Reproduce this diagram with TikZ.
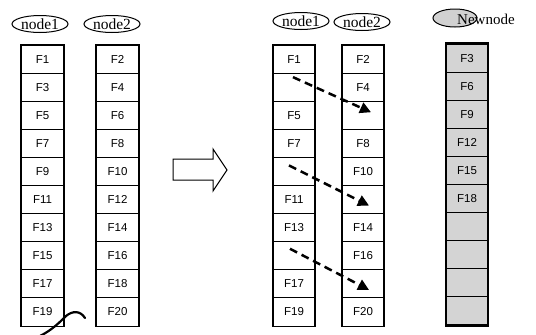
\documentclass[tikz,border=0pt]{standalone}
\usepackage{fontspec}
\setmainfont{Liberation Serif}
\newfontfamily\cellfont{Liberation Sans}
\usetikzlibrary{arrows.meta,shapes.geometric}
\begin{document}
\begin{tikzpicture}[x=1pt,y=-1pt,
  cell/.style={draw, line width=1pt, minimum width=41.5pt, minimum height=28.1pt,
    inner sep=0pt, font=\cellfont\fontsize{11.5}{13}\selectfont},
  newcell/.style={cell, fill=black!17},
  tag/.style={draw, ellipse, line width=1pt, minimum width=56pt, minimum height=17pt,
    inner sep=0pt, font=\fontsize{15.5}{17}\selectfont},
  frame/.style={draw, line width=1.8pt},
  move/.style={line width=2.5pt, dash pattern=on 8pt off 5pt,
    -{Triangle[length=11pt,width=11pt]}}
]
\useasboundingbox (0,0) rectangle (536,335);

% ---- before: two nodes ----
\node[tag] (l1) at (40,24) {node1};
\node[tag] (l2) at (112,24) {node2};
\foreach \lab [count=\i] in {F1,F3,F5,F7,F9,F11,F13,F15,F17,F19}
  \node[cell] (a\i) at (42.5,{45+(\i-0.5)*28.1}) {\lab};
\foreach \lab [count=\i] in {F2,F4,F6,F8,F10,F12,F14,F16,F18,F20}
  \node[cell] (b\i) at (117.5,{45+(\i-0.5)*28.1}) {\lab};
\draw[frame] (a1.north west) rectangle (a10.south east);
\draw[frame] (b1.north west) rectangle (b10.south east);

% hand-drawn stroke under the first column
\draw[line width=2.2pt, line cap=round]
  (40,336) .. controls (52,330) and (60,322) .. (66,316)
  .. controls (72,311) and (80,310) .. (85,318);

% ---- transition arrow ----
\draw[line width=1pt, line join=miter]
  (173,159) -- (213,159) -- (213,149) -- (227,170) -- (213,191)
  -- (213,180) -- (173,180) -- cycle;

% ---- after: two nodes with moved slots ----
\node[tag] (m1) at (301,21) {node1};
\node[tag] (m2) at (362,22) {node2};
\foreach \lab [count=\i] in {F1,{},F5,F7,{},F11,F13,{},F17,F19}
  \node[cell] (c\i) at (294,{45+(\i-0.5)*28.1}) {\lab};
\foreach \lab [count=\i] in {F2,F4,{},F8,F10,{},F14,F16,{},F20}
  \node[cell] (d\i) at (363,{45+(\i-0.5)*28.1}) {\lab};
\draw[frame] (c1.north west) rectangle (c10.south east);
\draw[frame] (d1.north west) rectangle (d10.south east);

\draw[move] ([xshift=-1pt,yshift=10pt]c2.center) -- ([xshift=8pt,yshift=3pt]d3.center);
\draw[move] ([xshift=-5pt,yshift=6pt]c5.center) -- ([xshift=6pt,yshift=-6pt]d6.center);
\draw[move] ([xshift=-4pt,yshift=7pt]c8.center) -- ([xshift=6pt,yshift=-6pt]d9.center);

% ---- the new node ----
\node[draw, ellipse, line width=1pt, fill=black!18, minimum width=44pt,
  minimum height=18pt, inner sep=0pt] (nw) at (455,18) {};
\node[anchor=west, inner sep=0pt, font=\fontsize{15}{17}\selectfont]
  (nt) at (457,19) {Newnode};
\foreach \lab [count=\i] in {F3,F6,F9,F12,F15,F18,{},{},{},{}}
  \node[newcell] (n\i) at (467,{44+(\i-0.5)*28.1}) {\lab};
\draw[frame, line width=2.4pt] (n1.north west) rectangle (n10.south east);
\end{tikzpicture}
\end{document}
